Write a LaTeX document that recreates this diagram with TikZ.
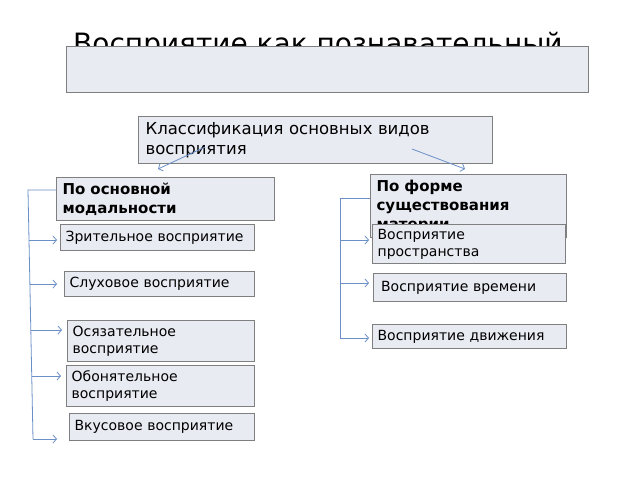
\documentclass[tikz,border=0pt]{standalone}
\usepackage{fontspec}
\setmainfont{DejaVu Sans}
\usetikzlibrary{arrows.meta}
\definecolor{boxfill}{HTML}{E9EBF3}
\definecolor{boxdraw}{HTML}{7F7F7F}
\definecolor{connc}{HTML}{6B8FC7}
\tikzset{
  box/.style={draw=boxdraw, fill=boxfill, line width=1.2pt, inner xsep=5pt, inner ysep=0pt,
    anchor=north west, align=left, font=\fontsize{14}{17}\selectfont},
  headbox/.style={box, font=\fontsize{15}{19}\selectfont\bfseries},
  conn/.style={draw=connc, line width=0.8pt},
  arr/.style={conn, -{Straight Barb[length=3.5pt,width=8pt]}}
}
\begin{document}
\begin{tikzpicture}[x=1pt,y=-1pt]
\useasboundingbox[fill=white] (0,0) rectangle (640,480);
% title partly hidden behind the box
\node[anchor=base west, inner sep=0pt, font=\fontsize{28}{34}\selectfont] (title) at (73,53) {Восприятие как познавательный};
\node[box, minimum width=522pt, minimum height=46pt] (tbox) at (66,46) {};
% classification
\node[box, font=\fontsize{16.5}{20}\selectfont, minimum width=354pt, minimum height=47pt, text width=340pt] (cls) at (138,116) {Классификация основных видов\\восприятия};
\coordinate (cl1) at (205,147);
\coordinate (cl2) at (412,149);
\coordinate (a1) at (158,169);
\coordinate (a2) at (465,169);
% left branch
\node[headbox, minimum width=218pt, minimum height=43pt, text width=206pt] (osn) at (56,177) {По основной\\модальности};
\node[box, minimum width=194pt, minimum height=26pt, text width=184pt] (zr) at (60,224) {Зрительное восприятие};
\node[box, minimum width=190pt, minimum height=25pt, text width=180pt] (sl) at (64,271) {Слуховое восприятие};
\node[box, minimum width=187pt, minimum height=41pt, text width=177pt] (os) at (67,320) {Осязательное\\восприятие};
\node[box, minimum width=188pt, minimum height=41pt, text width=178pt] (ob) at (66,365) {Обонятельное\\восприятие};
\node[box, minimum width=185pt, minimum height=27pt, text width=175pt] (vk) at (69,413) {Вкусовое восприятие};
% right branch
\node[headbox, minimum width=196pt, minimum height=63pt, text width=184pt] (frm) at (370,174) {По форме\\существования\\материи};
\node[box, minimum width=193pt, minimum height=39pt, text width=183pt] (pr) at (372,224) {Восприятие\\пространства};
\node[box, minimum width=193pt, minimum height=28pt, text width=178pt, inner xsep=7pt] (vr) at (373,273) {Восприятие времени};
\node[box, minimum width=194pt, minimum height=24pt, text width=184pt] (dv) at (372,324) {Восприятие движения};
% arrows from classification box
\draw[arr] (cl1) -- (a1);
\draw[arr] (cl2) -- (a2);
% left trunk
\coordinate (L0) at (28,190);
\coordinate (L1) at (29,240);
\coordinate (L2) at (29.9,284);
\coordinate (L3) at (30.8,330);
\coordinate (L4) at (31.7,376);
\coordinate (L5) at (33,439);
\draw[conn] (osn.west |- L0) -- (L0) -- (L5);
\draw[arr] (L1) -- ([xshift=-3pt]zr.west |- L1);
\draw[arr] (L2) -- ([xshift=-7pt]sl.west |- L2);
\draw[arr] (L3) -- ([xshift=-5pt]os.west |- L3);
\draw[arr] (L4) -- ([xshift=-5pt]ob.west |- L4);
\draw[arr] (L5) -- ([xshift=-12pt]vk.west |- L5);
% right trunk
\coordinate (R0) at (340,198);
\coordinate (R1) at (340,240);
\coordinate (R2) at (340,283);
\coordinate (R3) at (340,338);
\draw[conn] (frm.west |- R0) -- (R0) -- (R3);
\draw[arr] (R1) -- ([xshift=-3pt]pr.west |- R1);
\draw[arr] (R2) -- ([xshift=-4pt]vr.west |- R2);
\draw[arr] (R3) -- ([xshift=-3pt]dv.west |- R3);
\end{tikzpicture}
\end{document}
